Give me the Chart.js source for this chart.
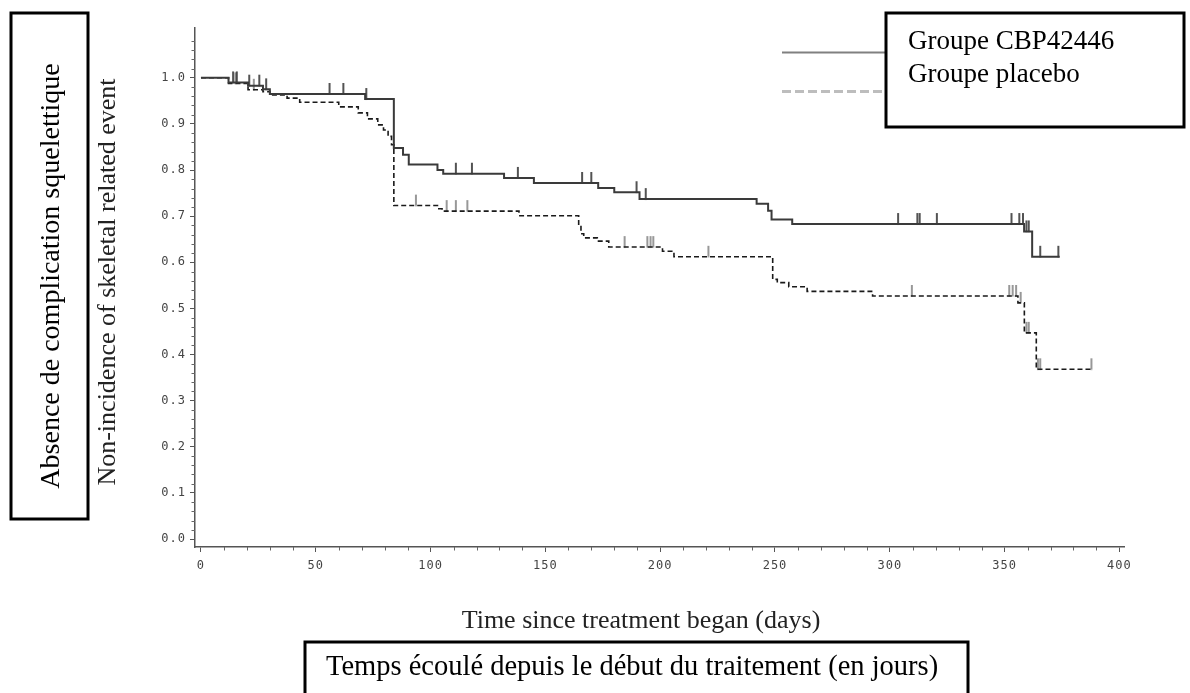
<!DOCTYPE html>
<html>
<head>
<meta charset="utf-8">
<script src="https://cdn.jsdelivr.net/npm/chart.js@4/dist/chart.umd.min.js"></script>
<style>
  html, body { margin: 0; padding: 0; background: #fff; overflow: hidden; }
  #wrap { width: 1190px; height: 693px; position: relative; }
</style>
</head>
<body>
<div id="wrap"><canvas id="km" width="1190" height="693"></canvas></div>
<script>
// ── Data ──
const cbpDays = [0, 12, 20.5, 27, 30, 71.5, 84, 88, 90.5, 103, 105.5, 132, 145, 173, 180, 191, 242, 247, 248.5, 257.5, 358.5, 362, 374];
const cbpSurv = [1.0, 0.99, 0.983, 0.975, 0.965, 0.954, 0.848, 0.833, 0.812, 0.80, 0.792, 0.783, 0.772, 0.761, 0.752, 0.737, 0.727, 0.712, 0.693, 0.683, 0.667, 0.612, 0.612];
const cbpCensor = [14, 15.6, 21, 25.4, 28.4, 56, 62, 72, 111, 118, 138, 166, 170, 189.7, 193.7, 303.6, 312, 313, 320.5, 353, 356.4, 358, 359.5, 360.5, 365.5, 373.4];

const placeboDays = [0, 12, 20.5, 27, 30, 37.5, 43, 60, 68.5, 72.5, 77, 79.5, 81.5, 83, 84, 103, 105, 138.5, 164.5, 165.5, 166.7, 172.6, 177.6, 201, 206, 249, 251, 256, 264, 292.5, 355.8, 358.6, 363.8, 388];
const placeboSurv = [1.0, 0.988, 0.974, 0.97, 0.963, 0.956, 0.947, 0.937, 0.924, 0.911, 0.898, 0.887, 0.873, 0.855, 0.723, 0.716, 0.711, 0.701, 0.68, 0.662, 0.653, 0.646, 0.633, 0.624, 0.612, 0.563, 0.556, 0.547, 0.537, 0.527, 0.512, 0.447, 0.368, 0.368];
const placeboCensor = [15, 23, 93.6, 107, 111, 116, 184.5, 194.4, 195.8, 197, 221, 309.6, 352, 353.5, 355, 357, 359.5, 360.5, 364.5, 365.5, 387.8];

const yTicks = [0, 0.1, 0.2, 0.3, 0.4, 0.5, 0.6, 0.7, 0.8, 0.9, 1.0];
const xTicks = [0, 50, 100, 150, 200, 250, 300, 350, 400];

const legendLabels = ['Groupe CBP42446', 'Groupe placebo'];
const yTitle = 'Non-incidence of skeletal related event';
const yTitleFr = 'Absence de complication squelettique';
const xTitle = 'Time since treatment began (days)';
const xTitleFr = 'Temps écoulé depuis le début du traitement (en jours)';

// ── helpers ──
function toPoints(days, surv) {
  return days.map((d, i) => ({ x: d, y: surv[i] }));
}

function survAt(days, surv, t) {
  let v = surv[0];
  for (let i = 0; i < days.length; i++) {
    if (days[i] <= t) v = surv[i];
  }
  return v;
}

function censorPoints(times, days, surv) {
  return times.map(t => ({ x: t, y: survAt(days, surv, t) }));
}

// vertical tick mark sitting on top of the curve
function makeTick(color, w) {
  const c = document.createElement('canvas');
  c.width = 4;
  c.height = 24;
  const g = c.getContext('2d');
  g.fillStyle = color;
  g.fillRect(2 - w / 2, 1, w, 11.5);
  return c;
}

// SAS-like spaced tick labels
const spacing = {
  id: 'spacing',
  beforeDraw(chart) { chart.ctx.letterSpacing = '1px'; },
};

// ── Decorations: titles, boxes, legend, minor ticks ──
const decor = {
  id: 'decor',
  afterDraw(chart) {
    const ctx = chart.ctx;
    const xs = chart.scales.x;
    const ys = chart.scales.y;
    ctx.save();
    ctx.letterSpacing = '0px';

    // minor ticks
    ctx.strokeStyle = '#666';
    ctx.lineWidth = 1;
    const axX = ys.right;
    for (let i = 1; i <= 55; i++) {
      if (i % 5 === 0) continue;
      const py = Math.round(ys.getPixelForValue(i / 50)) + 0.5;
      ctx.beginPath();
      ctx.moveTo(axX - 3.5, py);
      ctx.lineTo(axX, py);
      ctx.stroke();
    }
    const axY = xs.top;
    for (let d = 10; d < 400; d += 10) {
      if (d % 50 === 0) continue;
      const px = Math.round(xs.getPixelForValue(d)) + 0.5;
      ctx.beginPath();
      ctx.moveTo(px, axY);
      ctx.lineTo(px, axY + 3.5);
      ctx.stroke();
    }

    // left box with French title
    ctx.strokeStyle = '#000';
    ctx.lineWidth = 3;
    ctx.strokeRect(11, 13, 77, 506);
    ctx.fillStyle = '#000';
    ctx.textAlign = 'center';
    ctx.textBaseline = 'middle';
    ctx.font = '28px "Liberation Serif", "Times New Roman", serif';
    ctx.save();
    ctx.translate(52, 276);
    ctx.rotate(-Math.PI / 2);
    ctx.fillText(yTitleFr, 0, 0);
    ctx.restore();

    // y axis title
    ctx.fillStyle = '#222';
    ctx.font = '26px "Liberation Serif", "Times New Roman", serif';
    ctx.save();
    ctx.translate(108, 282);
    ctx.rotate(-Math.PI / 2);
    ctx.fillText(yTitle, 0, 0);
    ctx.restore();

    // x axis title
    ctx.fillText(xTitle, 641, 621);

    // bottom box
    ctx.strokeStyle = '#000';
    ctx.lineWidth = 3;
    ctx.strokeRect(305, 642, 663, 60);
    ctx.fillStyle = '#000';
    ctx.textAlign = 'left';
    ctx.font = '28.5px "Liberation Serif", "Times New Roman", serif';
    ctx.fillText(xTitleFr, 326, 668);

    // legend
    ctx.lineWidth = 2;
    ctx.strokeStyle = '#808080';
    ctx.beginPath();
    ctx.moveTo(782, 52.5);
    ctx.lineTo(886, 52.5);
    ctx.stroke();
    ctx.lineWidth = 3;
    ctx.strokeStyle = '#bdbdbd';
    ctx.setLineDash([9, 4]);
    ctx.beginPath();
    ctx.moveTo(782, 91.5);
    ctx.lineTo(886, 91.5);
    ctx.stroke();
    ctx.setLineDash([]);

    ctx.fillStyle = '#fff';
    ctx.fillRect(886, 13, 298, 114);
    ctx.strokeStyle = '#000';
    ctx.lineWidth = 3;
    ctx.strokeRect(886, 13, 298, 114);
    ctx.fillStyle = '#000';
    ctx.textBaseline = 'alphabetic';
    ctx.font = '27px "Liberation Serif", "Times New Roman", serif';
    ctx.fillText(legendLabels[0], 908, 49);
    ctx.fillText(legendLabels[1], 908, 82);

    ctx.restore();
  }
};

// ── Chart ──
const tickFont = { family: '"DejaVu Sans Mono", "Liberation Mono", monospace', size: 12 };

new Chart(document.getElementById('km'), {
  type: 'line',
  data: {
    datasets: [
      {
        label: legendLabels[0],
        data: toPoints(cbpDays, cbpSurv),
        stepped: true,
        borderColor: '#3a3a3a',
        borderWidth: 2,
        pointRadius: 0,
        fill: false,
      },
      {
        label: legendLabels[1],
        data: toPoints(placeboDays, placeboSurv),
        stepped: true,
        borderColor: '#1a1a1a',
        borderWidth: 1.6,
        borderDash: [5, 3],
        pointRadius: 0,
        fill: false,
      },
      {
        type: 'scatter',
        data: censorPoints(cbpCensor, cbpDays, cbpSurv),
        showLine: false,
        pointStyle: makeTick('#2a2a2a', 1.6),
      },
      {
        type: 'scatter',
        data: censorPoints(placeboCensor, placeboDays, placeboSurv),
        showLine: false,
        pointStyle: makeTick('#555', 1.2),
      },
    ]
  },
  options: {
    responsive: false,
    devicePixelRatio: 1,
    animation: false,
    layout: { padding: { left: 0, top: 28, right: 66, bottom: 0 } },
    plugins: {
      legend: { display: false },
      tooltip: { enabled: false },
    },
    scales: {
      x: {
        type: 'linear',
        min: -2.6,
        max: 402,
        afterFit: s => { s.height = 146; },
        afterBuildTicks: s => { s.ticks = xTicks.map(v => ({ value: v })); },
        ticks: {
          font: tickFont,
          color: '#444',
          padding: 7,
          maxRotation: 0,
          callback: v => String(v),
        },
        grid: { drawOnChartArea: false, drawTicks: true, tickLength: 5, color: '#555' },
        border: { color: '#555', width: 1.5 },
      },
      y: {
        type: 'linear',
        min: -0.0173,
        max: 1.108,
        afterFit: s => { s.width = 195; },
        afterBuildTicks: s => { s.ticks = yTicks.map(v => ({ value: v })); },
        ticks: {
          font: tickFont,
          color: '#444',
          padding: 4,
          callback: v => Number(v).toFixed(1),
        },
        grid: { drawOnChartArea: false, drawTicks: true, tickLength: 5, color: '#555' },
        border: { color: '#555', width: 1.5 },
      }
    }
  },
  plugins: [spacing, decor]
});
</script>
</body>
</html>
